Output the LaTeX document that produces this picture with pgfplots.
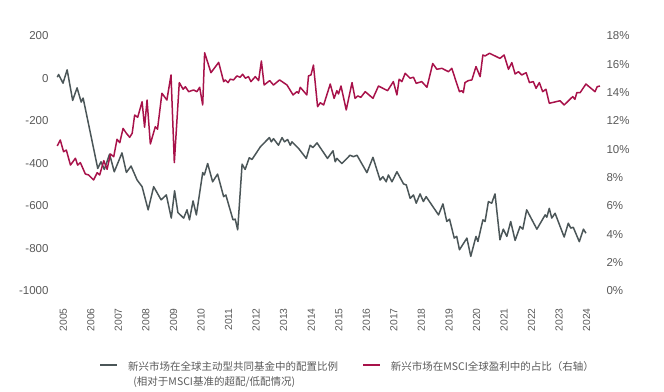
\documentclass[border=0pt]{standalone}
\usepackage{pgfplots}
\pgfplotsset{compat=1.18}
\usepackage{fontspec}
\setmainfont{Liberation Sans}
\newfontfamily\cjk{Noto Sans CJK SC}
\definecolor{greyline}{HTML}{4B5658}
\definecolor{redline}{HTML}{A8124A}
\definecolor{ticktext}{HTML}{5A5A5A}
\begin{document}
\begin{tikzpicture}
\pgfplotsset{
  common/.style={
    scale only axis, width=551pt, height=255pt,
    xmin=2004.59, xmax=2024.59,
    axis line style={draw=none}, tick style={draw=none},
    /pgf/number format/assume math mode=true,
    /pgf/number format/1000 sep={},
    yticklabel style={font=\fontsize{11.5}{12}\selectfont, text=ticktext},
    clip=false,
  },
}
\begin{axis}[common,
  ymin=-1000, ymax=200, ytick={-1000,-800,...,200},
  xtick={2005,...,2024},
  xticklabel style={font=\fontsize{10.3}{11}\selectfont, text=ticktext, rotate=90, anchor=east},
  xticklabel shift=14pt,
  legend columns=2,
  legend style={at={(0.0858,-0.219)}, anchor=north west, draw=none, fill=none,
    inner sep=0pt, font=\cjk\fontsize{10.5}{15}\selectfont, text=ticktext,
    cells={anchor=north west, align=left},
    /tikz/every odd column/.append style={column sep=8pt},
    /tikz/every even column/.append style={column sep=22pt}},
  legend image code/.code={\path[draw=none,fill=none] (0pt,-10pt) rectangle (17pt,12pt);\draw[#1, line width=1.7pt] (0pt,-6pt) -- (17pt,-6pt);},
]
\addplot[greyline, line width=1.5pt, line join=round] coordinates {
(2004.78,6) (2004.83,19) (2004.99,-22) (2005.14,41) (2005.34,-103) (2005.50,-44) (2005.65,-111) (2005.72,-92) (2006.25,-423) (2006.37,-392) (2006.49,-428) (2006.68,-356) (2006.85,-439) (2007.13,-350) (2007.29,-442) (2007.46,-412) (2007.68,-478) (2007.86,-509) (2008.08,-618) (2008.28,-509) (2008.55,-571) (2008.74,-548) (2008.92,-657) (2009.04,-528) (2009.16,-631) (2009.37,-657) (2009.49,-618) (2009.58,-665) (2009.71,-576) (2009.83,-642) (2010.06,-443) (2010.12,-454) (2010.24,-400) (2010.42,-486) (2010.60,-450) (2010.82,-556) (2010.90,-548) (2011.16,-665) (2011.24,-662) (2011.33,-712) (2011.49,-403) (2011.60,-428) (2011.75,-373) (2011.85,-381) (2012.15,-322) (2012.48,-278) (2012.55,-298) (2012.63,-283) (2012.81,-314) (2012.94,-278) (2013.03,-298) (2013.14,-287) (2013.24,-314) (2013.30,-298) (2013.54,-329) (2013.82,-376) (2013.96,-314) (2014.06,-325) (2014.21,-303) (2014.59,-376) (2014.79,-340) (2014.87,-392) (2014.93,-376) (2015.11,-400) (2015.41,-361) (2015.53,-368) (2015.66,-361) (2016.02,-443) (2016.24,-371) (2016.50,-478) (2016.60,-462) (2016.72,-486) (2016.80,-454) (2016.93,-486) (2017.11,-439) (2017.35,-496) (2017.45,-501) (2017.59,-564) (2017.71,-548) (2017.81,-587) (2017.95,-543) (2018.07,-579) (2018.17,-556) (2018.62,-642) (2018.78,-590) (2018.92,-673) (2019.02,-662) (2019.19,-751) (2019.28,-743) (2019.38,-806) (2019.65,-751) (2019.79,-837) (2019.98,-743) (2020.05,-767) (2020.23,-665) (2020.31,-673) (2020.43,-579) (2020.55,-587) (2020.67,-543) (2020.85,-759) (2020.97,-709) (2021.10,-743) (2021.24,-673) (2021.40,-762) (2021.58,-696) (2021.68,-709) (2021.82,-618) (2022.19,-709) (2022.49,-642) (2022.55,-653) (2022.64,-611) (2022.73,-657) (2022.85,-634) (2023.18,-746) (2023.33,-681) (2023.42,-704) (2023.51,-700) (2023.73,-768) (2023.88,-709) (2023.97,-728)
};
\addlegendentry{新兴市场在全球主动型共同基金中的配置比例\\\hspace{0.5em}(相对于MSCI基准的超配/低配情况)}
\addlegendimage{redline, line width=1.5pt}
\addlegendentry{新兴市场在MSCI全球盈利中的占比（右轴）}
\coordinate (sw) at (rel axis cs:0,0);
\coordinate (ne) at (rel axis cs:1,1);
\end{axis}
\begin{axis}[common,
  ymin=0, ymax=18, ytick={0,2,...,18},
  axis x line=none, axis y line*=right,
  yticklabel={\pgfmathprintnumber{\tick}\%},
]
\addplot[redline, line width=1.5pt, line join=round] coordinates {
(2004.78,10.24) (2004.89,10.66) (2005.01,9.83) (2005.11,9.95) (2005.26,8.89) (2005.44,9.37) (2005.52,8.89) (2005.62,9.06) (2005.80,8.26) (2005.92,8.19) (2006.10,7.84) (2006.23,8.35) (2006.32,8.19) (2006.47,9.20) (2006.59,8.59) (2006.71,9.67) (2006.83,9.48) (2006.95,10.71) (2007.05,10.47) (2007.17,11.48) (2007.29,11.13) (2007.41,10.85) (2007.50,11.13) (2007.59,12.42) (2007.70,12.26) (2007.86,13.36) (2007.95,11.56) (2008.04,13.48) (2008.16,10.38) (2008.34,11.60) (2008.42,11.42) (2008.58,13.96) (2008.76,13.48) (2008.91,15.25) (2009.03,9.06) (2009.21,14.71) (2009.35,14.24) (2009.43,14.42) (2009.55,14.07) (2009.73,14.19) (2009.85,14.07) (2009.95,14.38) (2010.06,13.13) (2010.13,16.82) (2010.36,15.41) (2010.64,16.14) (2010.82,14.78) (2010.88,14.90) (2010.98,14.71) (2011.06,14.95) (2011.18,14.90) (2011.30,15.18) (2011.42,15.09) (2011.51,15.30) (2011.61,15.02) (2011.72,15.13) (2011.81,14.78) (2011.97,15.13) (2012.09,14.85) (2012.19,16.24) (2012.29,14.54) (2012.49,14.85) (2012.63,14.54) (2012.85,14.90) (2013.12,14.54) (2013.34,13.84) (2013.48,14.07) (2013.54,13.96) (2013.60,14.38) (2013.84,13.84) (2013.90,15.18) (2013.99,15.25) (2014.08,15.95) (2014.23,13.01) (2014.33,13.29) (2014.45,13.13) (2014.69,14.61) (2014.83,13.60) (2014.93,14.14) (2014.99,13.91) (2015.08,14.47) (2015.27,12.78) (2015.48,14.71) (2015.59,13.60) (2015.69,13.77) (2015.80,13.67) (2015.96,14.07) (2016.24,13.60) (2016.44,14.47) (2016.77,14.14) (2016.98,14.78) (2017.11,13.84) (2017.19,14.95) (2017.29,14.78) (2017.41,15.37) (2017.59,15.02) (2017.71,15.09) (2017.81,14.66) (2018.01,14.78) (2018.20,14.38) (2018.41,16.06) (2018.56,15.65) (2018.74,15.72) (2018.98,15.48) (2019.10,15.72) (2019.38,14.07) (2019.46,14.14) (2019.52,14.00) (2019.58,14.71) (2019.70,14.85) (2019.83,14.90) (2019.98,15.84) (2020.13,15.13) (2020.23,16.66) (2020.31,16.59) (2020.47,16.78) (2020.85,16.42) (2021.00,16.66) (2021.16,15.65) (2021.28,16.12) (2021.40,15.32) (2021.52,15.48) (2021.64,15.25) (2021.80,15.41) (2021.92,14.71) (2022.06,14.78) (2022.16,14.31) (2022.28,14.71) (2022.40,14.07) (2022.52,14.24) (2022.64,13.25) (2023.03,13.43) (2023.18,13.13) (2023.49,13.72) (2023.57,13.53) (2023.64,14.00) (2023.76,14.00) (2023.97,14.61) (2024.30,14.07) (2024.38,14.42) (2024.48,14.47)
};
\end{axis}
\path ([xshift=-52pt,yshift=-100pt]sw) rectangle ([xshift=61pt,yshift=36pt]ne);
\end{tikzpicture}
\end{document}
